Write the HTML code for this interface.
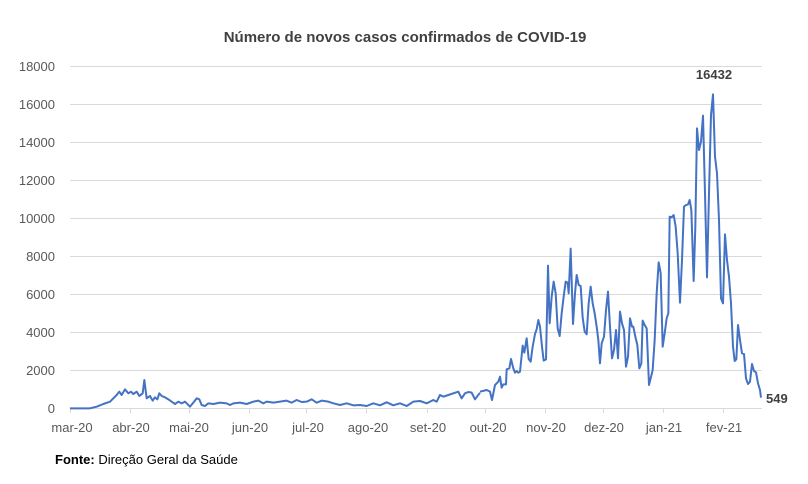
<!DOCTYPE html>
<html><head><meta charset="utf-8"><style>
body{margin:0;background:#fff;}
svg{display:block;font-family:"Liberation Sans",Arial,sans-serif;}
</style></head><body>
<svg width="808" height="484" viewBox="0 0 808 484" xmlns="http://www.w3.org/2000/svg">
<rect width="808" height="484" fill="#fff"/>
<text x="405" y="42" text-anchor="middle" font-size="15" font-weight="bold" fill="#404040">Número de novos casos confirmados de COVID-19</text>
<g stroke="#d9d9d9" stroke-width="1">
<line x1="70" x2="762" y1="66.5" y2="66.5"/><line x1="70" x2="762" y1="104.5" y2="104.5"/>
<line x1="70" x2="762" y1="142.5" y2="142.5"/><line x1="70" x2="762" y1="180.5" y2="180.5"/>
<line x1="70" x2="762" y1="218.5" y2="218.5"/><line x1="70" x2="762" y1="256.5" y2="256.5"/>
<line x1="70" x2="762" y1="294.5" y2="294.5"/><line x1="70" x2="762" y1="332.5" y2="332.5"/>
<line x1="70" x2="762" y1="370.5" y2="370.5"/><line x1="70" x2="762" y1="408.5" y2="408.5"/>
<line x1="70.5" x2="70.5" y1="408" y2="413"/><line x1="130.5" x2="130.5" y1="408" y2="413"/>
<line x1="189.5" x2="189.5" y1="408" y2="413"/><line x1="249.5" x2="249.5" y1="408" y2="413"/>
<line x1="306.5" x2="306.5" y1="408" y2="413"/><line x1="366.5" x2="366.5" y1="408" y2="413"/>
<line x1="427.5" x2="427.5" y1="408" y2="413"/><line x1="485.5" x2="485.5" y1="408" y2="413"/>
<line x1="545.5" x2="545.5" y1="408" y2="413"/><line x1="603.5" x2="603.5" y1="408" y2="413"/>
<line x1="663.5" x2="663.5" y1="408" y2="413"/><line x1="723.5" x2="723.5" y1="408" y2="413"/>
</g>
<g font-size="13" fill="#595959" text-anchor="end">
<text x="55" y="71">18000</text><text x="55" y="109">16000</text><text x="55" y="147">14000</text>
<text x="55" y="185">12000</text><text x="55" y="223">10000</text><text x="55" y="261">8000</text>
<text x="55" y="299">6000</text><text x="55" y="337">4000</text><text x="55" y="375">2000</text>
<text x="55" y="413">0</text>
</g>
<g font-size="13" fill="#595959" text-anchor="middle">
<text x="72" y="432">mar-20</text><text x="131" y="432">abr-20</text><text x="189" y="432">mai-20</text>
<text x="250" y="432">jun-20</text><text x="308" y="432">jul-20</text><text x="368" y="432">ago-20</text>
<text x="428" y="432">set-20</text><text x="488" y="432">out-20</text><text x="546" y="432">nov-20</text>
<text x="604" y="432">dez-20</text><text x="664" y="432">jan-21</text><text x="724" y="432">fev-21</text>
</g>
<g fill="none" stroke="#4472c4" stroke-width="2" stroke-linejoin="round">
<polyline transform="translate(0,360) scale(0.3333333)" vector-effect="non-scaling-stroke" points="210,145 270,145 290,140 310,132 330,125 340,115 350,105 358,95 365,105 375,88 385,100 393,95 400,102 410,95 418,108 428,100 433,60 440,115 450,108 458,122 465,112 472,118 478,100 485,108 495,112 505,118 515,125 525,132 535,125 545,130 555,125 563,133 570,140 580,128 590,115 598,118 605,135 615,138 625,130 640,132 660,128 680,130 690,135 700,130 720,128 740,132 760,125 775,122 790,130 800,125 820,128 840,125 860,122 875,128 890,120 905,126 920,125 935,118 950,128 965,122 985,125 1000,130 1020,135 1040,130 1060,136 1080,135 1100,138 1120,130 1140,136 1160,127 1180,136 1200,130 1220,138 1240,125 1260,123 1280,130 1300,120 1310,125 1320,105 1330,110 1345,105 1360,100 1375,95 1385,115 1395,100 1405,96 1415,98 1425,118 1440,98"/>
<polyline transform="translate(480,60) scale(0.3333333)" vector-effect="non-scaling-stroke" points="0,995 20,990 30,995 36,1020 45,975 55,965 60,950 65,983 70,973 78,973 80,928 88,925 93,897 100,925 105,938 110,933 115,938 120,935 128,857 133,878 140,835 146,897 152,905 158,860 165,822 170,808 175,780 180,800 186,860 191,902 198,898 204,617 209,790 215,710 221,665 227,700 233,805 239,828 245,760 251,710 257,665 263,668 266,700 272,566 279,792 285,700 290,645 296,675 302,678 308,773 314,815 320,823 326,730 332,680 338,730 344,760 350,800 355,840 360,910 365,850 372,830 378,750 384,695 390,800 396,895 402,870 408,810 414,895 420,755 426,790 432,810 438,920 444,890 450,775 456,800 460,800 466,830 472,855 478,925 484,910 488,782 494,795 500,805 507,975 512,955 518,930 524,840 530,700 536,607 542,640 548,860 554,820 560,775 565,760 569,470 575,472 581,465 587,500 593,580 600,728 606,600 612,440 618,435 624,433 629,420 634,450 641,663 646,500 651,205 657,270 663,245 669,167 675,400 681,652 687,400 693,165 699,103 705,290 711,340 717,480 723,715 729,730 735,523 741,600 747,650 753,730 759,860 764,903 769,898 774,795 780,840 786,880 792,882 798,955 804,972 810,965 816,912 822,933 828,937 834,970 840,990 843,1013"/>
</g>
<text x="714" y="79" text-anchor="middle" font-size="13" font-weight="bold" fill="#404040">16432</text>
<text x="766" y="403" font-size="13" font-weight="bold" fill="#404040">549</text>
<text x="55" y="464" font-size="13" fill="#000"><tspan font-weight="bold">Fonte:</tspan> Direção Geral da Saúde</text>
</svg>
</body></html>
